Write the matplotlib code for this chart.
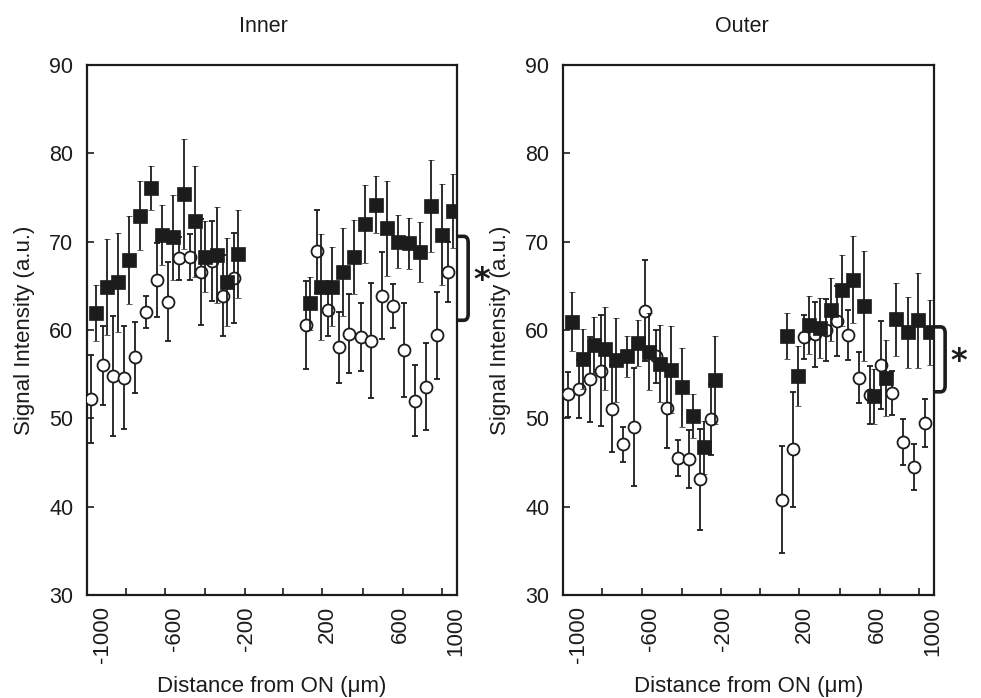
import matplotlib
matplotlib.use("Agg")
import matplotlib.pyplot as plt
from matplotlib.path import Path
from matplotlib.patches import PathPatch
import matplotlib.transforms as mtransforms

plt.rcParams['font.family'] = ['Liberation Sans', 'DejaVu Sans']

# distance from optic nerve (um), 14 points each side
distance = [-1000, -938, -877, -815, -754, -692, -631, -569, -508, -446, -385, -323, -262, -200,
            200, 262, 323, 385, 446, 508, 569, 631, 692, 754, 815, 877, 938, 1000]

inner_sq = [61.9, 64.85, 65.4, 67.9, 72.95, 76.1, 70.8, 70.5, 75.4, 72.3, 68.3, 68.5, 65.4, 68.6,
            63.0, 64.9, 64.9, 66.6, 68.3, 72.0, 74.2, 71.5, 70.0, 69.8, 68.8, 74.0, 70.8, 73.5]
inner_sq_err = [3.2, 5.4, 5.6, 5.0, 3.9, 2.5, 3.4, 4.8, 6.2, 6.3, 4.0, 5.4, 5.0, 5.0,
                3.0, 6.0, 4.5, 5.0, 4.2, 4.4, 3.2, 5.4, 3.0, 2.9, 3.4, 5.2, 5.7, 4.2]
inner_circ = [52.2, 56.0, 54.8, 54.6, 56.9, 62.0, 65.7, 63.2, 68.1, 68.3, 66.6, 67.8, 63.9, 65.9,
              60.6, 68.9, 62.3, 58.05, 59.6, 59.2, 58.8, 63.9, 62.7, 57.7, 52.0, 53.6, 59.4, 66.6]
inner_circ_err = [5.0, 4.5, 6.8, 5.8, 4.0, 1.8, 4.2, 4.5, 2.4, 2.6, 6.0, 4.5, 4.6, 5.1,
                  5.0, 4.7, 3.0, 4.0, 4.5, 3.8, 6.5, 4.9, 2.5, 5.3, 4.0, 4.9, 4.9, 3.4]

outer_sq = [60.95, 56.7, 58.3, 57.9, 56.6, 57.0, 58.5, 57.55, 56.2, 55.5, 53.5, 50.3, 46.7, 54.35,
            59.3, 54.8, 60.6, 60.2, 62.3, 64.5, 65.7, 62.7, 52.5, 54.6, 61.2, 59.75, 61.1, 59.75]
outer_sq_err = [3.3, 3.4, 3.2, 4.7, 4.8, 2.3, 2.6, 4.4, 4.4, 4.9, 4.5, 2.5, 3.0, 5.0,
                2.6, 3.4, 3.3, 3.4, 3.6, 4.0, 4.9, 6.2, 3.1, 4.3, 4.1, 4.0, 5.4, 3.7]
outer_circ = [52.7, 53.3, 54.4, 55.4, 51.1, 47.05, 49.0, 62.2, 57.0, 51.2, 45.5, 45.4, 43.1, 49.9,
              40.8, 46.5, 59.2, 59.5, 60.0, 61.0, 59.45, 54.6, 52.65, 56.05, 52.9, 47.3, 44.5, 49.45]
outer_circ_err = [2.5, 3.3, 4.8, 6.3, 4.9, 2.0, 6.7, 5.7, 3.0, 4.6, 2.0, 3.3, 5.7, 4.0,
                  6.1, 6.5, 2.5, 3.7, 3.5, 4.0, 2.8, 2.9, 3.3, 5.0, 2.5, 2.6, 2.6, 2.7]

tick_labels = ['-1000', '-600', '-200', '200', '600', '1000']
label_pos = [-950, -547, -143, 309, 721, 1029]
minor_pos = [-818, -599, -374, -154, 64, 282, 509, 733, 954]

# bracket (top, bottom) for the significance mark
brackets = {"Inner": (70.6, 61.1), "Outer": (60.35, 53.0)}

ink = '#1c1c1c'
dodge = 12

fig = plt.figure(figsize=(9.81, 6.98), dpi=100)
ax_in = fig.add_axes([0.0887, 0.1476, 0.3772, 0.7593])
ax_out = fig.add_axes([0.5742, 0.1476, 0.3779, 0.7593])

panels = [
    (ax_in, "Inner", inner_sq, inner_sq_err, inner_circ, inner_circ_err, 0.477),
    (ax_out, "Outer", outer_sq, outer_sq_err, outer_circ, outer_circ_err, 0.482),
]


def draw_bracket(ax, top, bot):
    trans = mtransforms.blended_transform_factory(ax.transAxes, ax.transData)
    x0, x1 = 1.004, 1.03
    rx, ry = 0.012, 0.7
    verts = [(x0, top), (x1 - rx, top), (x1, top), (x1, top - ry),
             (x1, bot + ry), (x1, bot), (x1 - rx, bot), (x0, bot)]
    codes = [Path.MOVETO, Path.LINETO, Path.CURVE3, Path.CURVE3,
             Path.LINETO, Path.CURVE3, Path.CURVE3, Path.LINETO]
    ax.add_patch(PathPatch(Path(verts, codes), transform=trans, fill=False,
                           lw=2.6, edgecolor=ink, clip_on=False, capstyle='round'))
    ax.text(1.066, (top + bot) / 2 - 0.3, '*', transform=trans, fontsize=23,
            fontweight='bold', ha='center', va='center', color=ink, family='DejaVu Sans')


for ax, name, sq, sq_err, circ, circ_err, title_x in panels:
    x_circ = [d - dodge for d in distance]
    x_sq = [d + dodge for d in distance]
    ax.errorbar(x_circ, circ, yerr=circ_err, fmt='o', ms=8.6, mfc='white', mec=ink,
                mew=1.3, ecolor=ink, elinewidth=1.3, capsize=2, capthick=1.3, zorder=3)
    ax.errorbar(x_sq, sq, yerr=sq_err, fmt='s', ms=10, mfc=ink, mec=ink,
                mew=0.5, ecolor=ink, elinewidth=1.3, capsize=2, capthick=1.3, zorder=4)

    ax.set_xlim(-1037, 1037)
    ax.set_ylim(30, 90)
    ax.set_yticks(range(30, 91, 10))
    ax.set_xticks(label_pos)
    ax.set_xticklabels(tick_labels, rotation=90)
    ax.set_xticks(minor_pos, minor=True)
    ax.tick_params(axis='x', which='major', length=0, pad=8, labelsize=16, colors=ink)
    ax.tick_params(axis='x', which='minor', direction='in', length=5, width=1.2, color=ink)
    ax.tick_params(axis='y', direction='in', length=5, width=1.2, pad=10, labelsize=15.5,
                   colors=ink)
    for sp in ax.spines.values():
        sp.set_linewidth(1.6)
        sp.set_color(ink)

    ax.text(title_x, 1.073, name, transform=ax.transAxes, ha='center', va='center',
            fontsize=15.5, color=ink)
    ax.set_xlabel('Distance from ON (μm)', fontsize=16, color=ink)
    ax.xaxis.set_label_coords(0.5, -0.153)
    ax.set_ylabel('Signal Intensity (a.u.)', fontsize=16, color=ink, labelpad=10)

    top, bot = brackets[name]
    draw_bracket(ax, top, bot)

fig.savefig('out.png', dpi=100)
